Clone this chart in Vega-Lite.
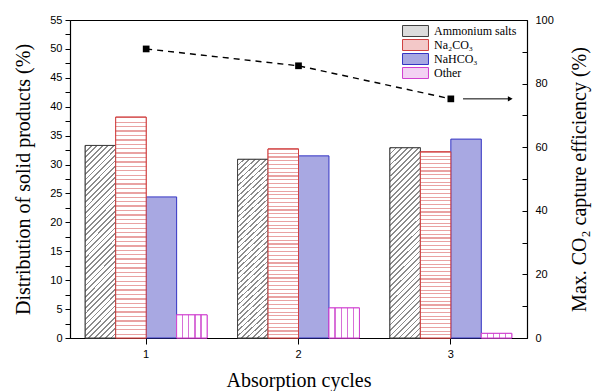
{
  "$schema": "https://vega.github.io/schema/vega-lite/v6.json",
  "width": 457,
  "height": 318,
  "autosize": {"type": "none"},
  "padding": {"left": 70, "top": 20, "right": 73, "bottom": 53},
  "background": "white",
  "config": {
    "view": {"stroke": "black", "strokeWidth": 1},
    "axis": {
      "grid": false,
      "domainColor": "black",
      "domainWidth": 1.2,
      "tickColor": "black",
      "labelColor": "black",
      "labelFont": "Liberation Sans",
      "labelFontSize": 11,
      "titleFont": "Liberation Serif",
      "titleFontSize": 20,
      "titleFontWeight": "normal",
      "titleColor": "black"
    }
  },
  "datasets": {
    "solid": [
      {"cycle": 1, "product": "Ammonium salts", "value": 33.3},
      {"cycle": 1, "product": "Na₂CO₃", "value": 38.2},
      {"cycle": 1, "product": "NaHCO₃", "value": 24.4},
      {"cycle": 1, "product": "Other", "value": 4.0},
      {"cycle": 2, "product": "Ammonium salts", "value": 30.9},
      {"cycle": 2, "product": "Na₂CO₃", "value": 32.7},
      {"cycle": 2, "product": "NaHCO₃", "value": 31.5},
      {"cycle": 2, "product": "Other", "value": 5.2},
      {"cycle": 3, "product": "Ammonium salts", "value": 32.9},
      {"cycle": 3, "product": "Na₂CO₃", "value": 32.2},
      {"cycle": 3, "product": "NaHCO₃", "value": 34.4},
      {"cycle": 3, "product": "Other", "value": 0.8}
    ],
    "eff": [
      {"cycle": 1, "eff": 90.9},
      {"cycle": 2, "eff": 85.6},
      {"cycle": 3, "eff": 75.2}
    ],
    "arrow": [
      {"xa": 3.08, "xb": 3.39, "eff": 75.2}
    ]
  },
  "resolve": {"scale": {"x": "independent", "y": "independent"}, "axis": {"x": "independent", "y": "independent"}},
  "layer": [
    {
      "data": {"name": "solid"},
      "encoding": {
        "x": {"field": "cycle", "type": "ordinal", "scale": {"paddingInner": 0.2, "paddingOuter": 0.1},
          "axis": {"title": "Absorption cycles", "labelAngle": 0, "tickSize": 6, "labelPadding": 4, "titlePadding": 11}},
        "xOffset": {"field": "product", "type": "nominal", "scale": {"domain": ["Ammonium salts", "Na₂CO₃", "NaHCO₃", "Other"], "paddingInner": 0, "paddingOuter": 0}},
        "y": {"field": "value", "type": "quantitative", "scale": {"domain": [0, 55], "nice": false},
          "axis": {"title": "Distribution of solid products (%)", "values": [0,2.5,5,7.5,10,12.5,15,17.5,20,22.5,25,27.5,30,32.5,35,37.5,40,42.5,45,47.5,50,52.5,55],
            "labelExpr": "datum.value % 5 === 0 ? datum.label : ''", "tickSize": 5, "labelPadding": 3, "titlePadding": 16}}
      },
      "layer": [
        {
          "mark": {"type": "bar", "strokeWidth": 1},
          "encoding": {
            "fill": {"field": "product", "type": "nominal",
              "scale": {"domain": ["Ammonium salts", "Na₂CO₃", "NaHCO₃", "Other"], "range": ["#dcdcdc", "#f3c8c8", "#a8a8e2", "#f3d2f3"]},
              "legend": {"orient": "none", "legendX": 339.5, "legendY": 5, "title": null, "symbolType": "M-2.36,-1H2.36V1H-2.36Z", "symbolSize": 121, "labelFont": "Liberation Serif", "labelFontSize": 12, "labelColor": "black", "rowPadding": -2, "labelOffset": 12.5, "symbolStrokeWidth": 1, "symbolOpacity": 1}},
            "stroke": {"field": "product", "type": "nominal",
              "scale": {"domain": ["Ammonium salts", "Na₂CO₃", "NaHCO₃", "Other"], "range": ["#404040", "#d04040", "#3434c4", "#d040d0"]},
              "legend": {"orient": "none", "legendX": 339.5, "legendY": 5, "title": null, "symbolType": "M-2.36,-1H2.36V1H-2.36Z", "symbolSize": 121, "labelFont": "Liberation Serif", "labelFontSize": 12, "labelColor": "black", "rowPadding": -2, "labelOffset": 12.5, "symbolStrokeWidth": 1, "symbolOpacity": 1}}
          }
        },
        {
          "transform": [{"filter": "datum.product === 'Ammonium salts'"}],
          "mark": {"type": "bar", "stroke": "#404040", "strokeWidth": 1,
            "fill": {"gradient": "linear", "x1": 0, "y1": 0, "x2": 0.18, "y2": 1.13, "stops": [
              {"offset":0,"color":"#8c8c8c"},{"offset":0.008,"color":"#8c8c8c"},{"offset":0.008,"color":"#fff"},{"offset":0.025,"color":"#fff"},
              {"offset":0.025,"color":"#8c8c8c"},{"offset":0.033,"color":"#8c8c8c"},{"offset":0.033,"color":"#fff"},{"offset":0.05,"color":"#fff"},
              {"offset":0.05,"color":"#8c8c8c"},{"offset":0.058,"color":"#8c8c8c"},{"offset":0.058,"color":"#fff"},{"offset":0.075,"color":"#fff"},
              {"offset":0.075,"color":"#8c8c8c"},{"offset":0.083,"color":"#8c8c8c"},{"offset":0.083,"color":"#fff"},{"offset":0.1,"color":"#fff"},
              {"offset":0.1,"color":"#8c8c8c"},{"offset":0.108,"color":"#8c8c8c"},{"offset":0.108,"color":"#fff"},{"offset":0.125,"color":"#fff"},
              {"offset":0.125,"color":"#8c8c8c"},{"offset":0.133,"color":"#8c8c8c"},{"offset":0.133,"color":"#fff"},{"offset":0.15,"color":"#fff"},
              {"offset":0.15,"color":"#8c8c8c"},{"offset":0.158,"color":"#8c8c8c"},{"offset":0.158,"color":"#fff"},{"offset":0.175,"color":"#fff"},
              {"offset":0.175,"color":"#8c8c8c"},{"offset":0.183,"color":"#8c8c8c"},{"offset":0.183,"color":"#fff"},{"offset":0.2,"color":"#fff"},
              {"offset":0.2,"color":"#8c8c8c"},{"offset":0.208,"color":"#8c8c8c"},{"offset":0.208,"color":"#fff"},{"offset":0.225,"color":"#fff"},
              {"offset":0.225,"color":"#8c8c8c"},{"offset":0.233,"color":"#8c8c8c"},{"offset":0.233,"color":"#fff"},{"offset":0.25,"color":"#fff"},
              {"offset":0.25,"color":"#8c8c8c"},{"offset":0.258,"color":"#8c8c8c"},{"offset":0.258,"color":"#fff"},{"offset":0.275,"color":"#fff"},
              {"offset":0.275,"color":"#8c8c8c"},{"offset":0.283,"color":"#8c8c8c"},{"offset":0.283,"color":"#fff"},{"offset":0.3,"color":"#fff"},
              {"offset":0.3,"color":"#8c8c8c"},{"offset":0.308,"color":"#8c8c8c"},{"offset":0.308,"color":"#fff"},{"offset":0.325,"color":"#fff"},
              {"offset":0.325,"color":"#8c8c8c"},{"offset":0.333,"color":"#8c8c8c"},{"offset":0.333,"color":"#fff"},{"offset":0.35,"color":"#fff"},
              {"offset":0.35,"color":"#8c8c8c"},{"offset":0.358,"color":"#8c8c8c"},{"offset":0.358,"color":"#fff"},{"offset":0.375,"color":"#fff"},
              {"offset":0.375,"color":"#8c8c8c"},{"offset":0.383,"color":"#8c8c8c"},{"offset":0.383,"color":"#fff"},{"offset":0.4,"color":"#fff"},
              {"offset":0.4,"color":"#8c8c8c"},{"offset":0.408,"color":"#8c8c8c"},{"offset":0.408,"color":"#fff"},{"offset":0.425,"color":"#fff"},
              {"offset":0.425,"color":"#8c8c8c"},{"offset":0.433,"color":"#8c8c8c"},{"offset":0.433,"color":"#fff"},{"offset":0.45,"color":"#fff"},
              {"offset":0.45,"color":"#8c8c8c"},{"offset":0.458,"color":"#8c8c8c"},{"offset":0.458,"color":"#fff"},{"offset":0.475,"color":"#fff"},
              {"offset":0.475,"color":"#8c8c8c"},{"offset":0.483,"color":"#8c8c8c"},{"offset":0.483,"color":"#fff"},{"offset":0.5,"color":"#fff"},
              {"offset":0.5,"color":"#8c8c8c"},{"offset":0.508,"color":"#8c8c8c"},{"offset":0.508,"color":"#fff"},{"offset":0.525,"color":"#fff"},
              {"offset":0.525,"color":"#8c8c8c"},{"offset":0.533,"color":"#8c8c8c"},{"offset":0.533,"color":"#fff"},{"offset":0.55,"color":"#fff"},
              {"offset":0.55,"color":"#8c8c8c"},{"offset":0.558,"color":"#8c8c8c"},{"offset":0.558,"color":"#fff"},{"offset":0.575,"color":"#fff"},
              {"offset":0.575,"color":"#8c8c8c"},{"offset":0.583,"color":"#8c8c8c"},{"offset":0.583,"color":"#fff"},{"offset":0.6,"color":"#fff"},
              {"offset":0.6,"color":"#8c8c8c"},{"offset":0.608,"color":"#8c8c8c"},{"offset":0.608,"color":"#fff"},{"offset":0.625,"color":"#fff"},
              {"offset":0.625,"color":"#8c8c8c"},{"offset":0.633,"color":"#8c8c8c"},{"offset":0.633,"color":"#fff"},{"offset":0.65,"color":"#fff"},
              {"offset":0.65,"color":"#8c8c8c"},{"offset":0.658,"color":"#8c8c8c"},{"offset":0.658,"color":"#fff"},{"offset":0.675,"color":"#fff"},
              {"offset":0.675,"color":"#8c8c8c"},{"offset":0.683,"color":"#8c8c8c"},{"offset":0.683,"color":"#fff"},{"offset":0.7,"color":"#fff"},
              {"offset":0.7,"color":"#8c8c8c"},{"offset":0.708,"color":"#8c8c8c"},{"offset":0.708,"color":"#fff"},{"offset":0.725,"color":"#fff"},
              {"offset":0.725,"color":"#8c8c8c"},{"offset":0.733,"color":"#8c8c8c"},{"offset":0.733,"color":"#fff"},{"offset":0.75,"color":"#fff"},
              {"offset":0.75,"color":"#8c8c8c"},{"offset":0.758,"color":"#8c8c8c"},{"offset":0.758,"color":"#fff"},{"offset":0.775,"color":"#fff"},
              {"offset":0.775,"color":"#8c8c8c"},{"offset":0.783,"color":"#8c8c8c"},{"offset":0.783,"color":"#fff"},{"offset":0.8,"color":"#fff"},
              {"offset":0.8,"color":"#8c8c8c"},{"offset":0.808,"color":"#8c8c8c"},{"offset":0.808,"color":"#fff"},{"offset":0.825,"color":"#fff"},
              {"offset":0.825,"color":"#8c8c8c"},{"offset":0.833,"color":"#8c8c8c"},{"offset":0.833,"color":"#fff"},{"offset":0.85,"color":"#fff"},
              {"offset":0.85,"color":"#8c8c8c"},{"offset":0.858,"color":"#8c8c8c"},{"offset":0.858,"color":"#fff"},{"offset":0.875,"color":"#fff"},
              {"offset":0.875,"color":"#8c8c8c"},{"offset":0.883,"color":"#8c8c8c"},{"offset":0.883,"color":"#fff"},{"offset":0.9,"color":"#fff"},
              {"offset":0.9,"color":"#8c8c8c"},{"offset":0.908,"color":"#8c8c8c"},{"offset":0.908,"color":"#fff"},{"offset":0.925,"color":"#fff"},
              {"offset":0.925,"color":"#8c8c8c"},{"offset":0.933,"color":"#8c8c8c"},{"offset":0.933,"color":"#fff"},{"offset":0.95,"color":"#fff"},
              {"offset":0.95,"color":"#8c8c8c"},{"offset":0.958,"color":"#8c8c8c"},{"offset":0.958,"color":"#fff"},{"offset":0.975,"color":"#fff"},
              {"offset":0.975,"color":"#8c8c8c"},{"offset":0.983,"color":"#8c8c8c"},{"offset":0.983,"color":"#fff"},{"offset":1,"color":"#fff"}
            ]}}
        },
        {
          "transform": [{"filter": "datum.product === 'Na₂CO₃'"}],
          "mark": {"type": "bar", "stroke": "#d04040", "strokeWidth": 1,
            "fill": {"gradient": "linear", "x1": 0, "y1": 0, "x2": 0, "y2": 1, "stops": [
              {"offset":0,"color":"#e9a2a2"},{"offset":0.006,"color":"#e9a2a2"},{"offset":0.006,"color":"#fff"},{"offset":0.02,"color":"#fff"},
              {"offset":0.02,"color":"#e9a2a2"},{"offset":0.026,"color":"#e9a2a2"},{"offset":0.026,"color":"#fff"},{"offset":0.04,"color":"#fff"},
              {"offset":0.04,"color":"#e9a2a2"},{"offset":0.046,"color":"#e9a2a2"},{"offset":0.046,"color":"#fff"},{"offset":0.06,"color":"#fff"},
              {"offset":0.06,"color":"#e9a2a2"},{"offset":0.066,"color":"#e9a2a2"},{"offset":0.066,"color":"#fff"},{"offset":0.08,"color":"#fff"},
              {"offset":0.08,"color":"#e9a2a2"},{"offset":0.086,"color":"#e9a2a2"},{"offset":0.086,"color":"#fff"},{"offset":0.1,"color":"#fff"},
              {"offset":0.1,"color":"#e9a2a2"},{"offset":0.106,"color":"#e9a2a2"},{"offset":0.106,"color":"#fff"},{"offset":0.12,"color":"#fff"},
              {"offset":0.12,"color":"#e9a2a2"},{"offset":0.126,"color":"#e9a2a2"},{"offset":0.126,"color":"#fff"},{"offset":0.14,"color":"#fff"},
              {"offset":0.14,"color":"#e9a2a2"},{"offset":0.146,"color":"#e9a2a2"},{"offset":0.146,"color":"#fff"},{"offset":0.16,"color":"#fff"},
              {"offset":0.16,"color":"#e9a2a2"},{"offset":0.166,"color":"#e9a2a2"},{"offset":0.166,"color":"#fff"},{"offset":0.18,"color":"#fff"},
              {"offset":0.18,"color":"#e9a2a2"},{"offset":0.186,"color":"#e9a2a2"},{"offset":0.186,"color":"#fff"},{"offset":0.2,"color":"#fff"},
              {"offset":0.2,"color":"#e9a2a2"},{"offset":0.206,"color":"#e9a2a2"},{"offset":0.206,"color":"#fff"},{"offset":0.22,"color":"#fff"},
              {"offset":0.22,"color":"#e9a2a2"},{"offset":0.226,"color":"#e9a2a2"},{"offset":0.226,"color":"#fff"},{"offset":0.24,"color":"#fff"},
              {"offset":0.24,"color":"#e9a2a2"},{"offset":0.246,"color":"#e9a2a2"},{"offset":0.246,"color":"#fff"},{"offset":0.26,"color":"#fff"},
              {"offset":0.26,"color":"#e9a2a2"},{"offset":0.266,"color":"#e9a2a2"},{"offset":0.266,"color":"#fff"},{"offset":0.28,"color":"#fff"},
              {"offset":0.28,"color":"#e9a2a2"},{"offset":0.286,"color":"#e9a2a2"},{"offset":0.286,"color":"#fff"},{"offset":0.3,"color":"#fff"},
              {"offset":0.3,"color":"#e9a2a2"},{"offset":0.306,"color":"#e9a2a2"},{"offset":0.306,"color":"#fff"},{"offset":0.32,"color":"#fff"},
              {"offset":0.32,"color":"#e9a2a2"},{"offset":0.326,"color":"#e9a2a2"},{"offset":0.326,"color":"#fff"},{"offset":0.34,"color":"#fff"},
              {"offset":0.34,"color":"#e9a2a2"},{"offset":0.346,"color":"#e9a2a2"},{"offset":0.346,"color":"#fff"},{"offset":0.36,"color":"#fff"},
              {"offset":0.36,"color":"#e9a2a2"},{"offset":0.366,"color":"#e9a2a2"},{"offset":0.366,"color":"#fff"},{"offset":0.38,"color":"#fff"},
              {"offset":0.38,"color":"#e9a2a2"},{"offset":0.386,"color":"#e9a2a2"},{"offset":0.386,"color":"#fff"},{"offset":0.4,"color":"#fff"},
              {"offset":0.4,"color":"#e9a2a2"},{"offset":0.406,"color":"#e9a2a2"},{"offset":0.406,"color":"#fff"},{"offset":0.42,"color":"#fff"},
              {"offset":0.42,"color":"#e9a2a2"},{"offset":0.426,"color":"#e9a2a2"},{"offset":0.426,"color":"#fff"},{"offset":0.44,"color":"#fff"},
              {"offset":0.44,"color":"#e9a2a2"},{"offset":0.446,"color":"#e9a2a2"},{"offset":0.446,"color":"#fff"},{"offset":0.46,"color":"#fff"},
              {"offset":0.46,"color":"#e9a2a2"},{"offset":0.466,"color":"#e9a2a2"},{"offset":0.466,"color":"#fff"},{"offset":0.48,"color":"#fff"},
              {"offset":0.48,"color":"#e9a2a2"},{"offset":0.486,"color":"#e9a2a2"},{"offset":0.486,"color":"#fff"},{"offset":0.5,"color":"#fff"},
              {"offset":0.5,"color":"#e9a2a2"},{"offset":0.506,"color":"#e9a2a2"},{"offset":0.506,"color":"#fff"},{"offset":0.52,"color":"#fff"},
              {"offset":0.52,"color":"#e9a2a2"},{"offset":0.526,"color":"#e9a2a2"},{"offset":0.526,"color":"#fff"},{"offset":0.54,"color":"#fff"},
              {"offset":0.54,"color":"#e9a2a2"},{"offset":0.546,"color":"#e9a2a2"},{"offset":0.546,"color":"#fff"},{"offset":0.56,"color":"#fff"},
              {"offset":0.56,"color":"#e9a2a2"},{"offset":0.566,"color":"#e9a2a2"},{"offset":0.566,"color":"#fff"},{"offset":0.58,"color":"#fff"},
              {"offset":0.58,"color":"#e9a2a2"},{"offset":0.586,"color":"#e9a2a2"},{"offset":0.586,"color":"#fff"},{"offset":0.6,"color":"#fff"},
              {"offset":0.6,"color":"#e9a2a2"},{"offset":0.606,"color":"#e9a2a2"},{"offset":0.606,"color":"#fff"},{"offset":0.62,"color":"#fff"},
              {"offset":0.62,"color":"#e9a2a2"},{"offset":0.626,"color":"#e9a2a2"},{"offset":0.626,"color":"#fff"},{"offset":0.64,"color":"#fff"},
              {"offset":0.64,"color":"#e9a2a2"},{"offset":0.646,"color":"#e9a2a2"},{"offset":0.646,"color":"#fff"},{"offset":0.66,"color":"#fff"},
              {"offset":0.66,"color":"#e9a2a2"},{"offset":0.666,"color":"#e9a2a2"},{"offset":0.666,"color":"#fff"},{"offset":0.68,"color":"#fff"},
              {"offset":0.68,"color":"#e9a2a2"},{"offset":0.686,"color":"#e9a2a2"},{"offset":0.686,"color":"#fff"},{"offset":0.7,"color":"#fff"},
              {"offset":0.7,"color":"#e9a2a2"},{"offset":0.706,"color":"#e9a2a2"},{"offset":0.706,"color":"#fff"},{"offset":0.72,"color":"#fff"},
              {"offset":0.72,"color":"#e9a2a2"},{"offset":0.726,"color":"#e9a2a2"},{"offset":0.726,"color":"#fff"},{"offset":0.74,"color":"#fff"},
              {"offset":0.74,"color":"#e9a2a2"},{"offset":0.746,"color":"#e9a2a2"},{"offset":0.746,"color":"#fff"},{"offset":0.76,"color":"#fff"},
              {"offset":0.76,"color":"#e9a2a2"},{"offset":0.766,"color":"#e9a2a2"},{"offset":0.766,"color":"#fff"},{"offset":0.78,"color":"#fff"},
              {"offset":0.78,"color":"#e9a2a2"},{"offset":0.786,"color":"#e9a2a2"},{"offset":0.786,"color":"#fff"},{"offset":0.8,"color":"#fff"},
              {"offset":0.8,"color":"#e9a2a2"},{"offset":0.806,"color":"#e9a2a2"},{"offset":0.806,"color":"#fff"},{"offset":0.82,"color":"#fff"},
              {"offset":0.82,"color":"#e9a2a2"},{"offset":0.826,"color":"#e9a2a2"},{"offset":0.826,"color":"#fff"},{"offset":0.84,"color":"#fff"},
              {"offset":0.84,"color":"#e9a2a2"},{"offset":0.846,"color":"#e9a2a2"},{"offset":0.846,"color":"#fff"},{"offset":0.86,"color":"#fff"},
              {"offset":0.86,"color":"#e9a2a2"},{"offset":0.866,"color":"#e9a2a2"},{"offset":0.866,"color":"#fff"},{"offset":0.88,"color":"#fff"},
              {"offset":0.88,"color":"#e9a2a2"},{"offset":0.886,"color":"#e9a2a2"},{"offset":0.886,"color":"#fff"},{"offset":0.9,"color":"#fff"},
              {"offset":0.9,"color":"#e9a2a2"},{"offset":0.906,"color":"#e9a2a2"},{"offset":0.906,"color":"#fff"},{"offset":0.92,"color":"#fff"},
              {"offset":0.92,"color":"#e9a2a2"},{"offset":0.926,"color":"#e9a2a2"},{"offset":0.926,"color":"#fff"},{"offset":0.94,"color":"#fff"},
              {"offset":0.94,"color":"#e9a2a2"},{"offset":0.946,"color":"#e9a2a2"},{"offset":0.946,"color":"#fff"},{"offset":0.96,"color":"#fff"},
              {"offset":0.96,"color":"#e9a2a2"},{"offset":0.966,"color":"#e9a2a2"},{"offset":0.966,"color":"#fff"},{"offset":0.98,"color":"#fff"},
              {"offset":0.98,"color":"#e9a2a2"},{"offset":0.986,"color":"#e9a2a2"},{"offset":0.986,"color":"#fff"},{"offset":1,"color":"#fff"}
            ]}}
        },
        {
          "transform": [{"filter": "datum.product === 'Other'"}],
          "mark": {"type": "bar", "stroke": "#d040d0", "strokeWidth": 1,
            "fill": {"gradient": "linear", "x1": 0, "y1": 0, "x2": 1, "y2": 0, "stops": [
              {"offset":0,"color":"#fff"},{"offset":0.18,"color":"#fff"},{"offset":0.18,"color":"#d870d8"},{"offset":0.22,"color":"#d870d8"},
              {"offset":0.22,"color":"#fff"},{"offset":0.38,"color":"#fff"},{"offset":0.38,"color":"#d870d8"},{"offset":0.42,"color":"#d870d8"},
              {"offset":0.42,"color":"#fff"},{"offset":0.58,"color":"#fff"},{"offset":0.58,"color":"#d870d8"},{"offset":0.62,"color":"#d870d8"},
              {"offset":0.62,"color":"#fff"},{"offset":0.78,"color":"#fff"},{"offset":0.78,"color":"#d870d8"},{"offset":0.82,"color":"#d870d8"},
              {"offset":0.82,"color":"#fff"},{"offset":1,"color":"#fff"}
            ]}}
        }
      ]
    },
    {
      "encoding": {
        "y": {"field": "eff", "type": "quantitative", "scale": {"domain": [0, 100], "nice": false},
          "axis": {"orient": "right", "title": "Max. CO₂ capture efficiency (%)", "titleAngle": 270,
            "values": [0,10,20,30,40,50,60,70,80,90,100], "labelExpr": "datum.value % 20 === 0 ? datum.label : ''",
            "tickSize": -5, "labelPadding": 13, "titlePadding": 36}}
      },
      "layer": [
        {
          "data": {"name": "eff"},
          "mark": {"type": "line", "color": "black", "strokeWidth": 1.4, "strokeDash": [6, 5]},
          "encoding": {"x": {"field": "cycle", "type": "quantitative", "scale": {"domain": [0.5, 3.5], "nice": false}, "axis": null}}
        },
        {
          "data": {"name": "eff"},
          "mark": {"type": "point", "shape": "square", "filled": true, "color": "black", "size": 45, "opacity": 1},
          "encoding": {"x": {"field": "cycle", "type": "quantitative", "scale": {"domain": [0.5, 3.5], "nice": false}, "axis": null}}
        },
        {
          "data": {"name": "arrow"},
          "mark": {"type": "rule", "color": "black", "strokeWidth": 1},
          "encoding": {"x": {"field": "xa", "type": "quantitative", "axis": null}, "x2": {"field": "xb"}}
        },
        {
          "data": {"name": "arrow"},
          "mark": {"type": "point", "shape": "triangle-right", "filled": true, "color": "black", "size": 30, "opacity": 1},
          "encoding": {"x": {"field": "xb", "type": "quantitative", "axis": null}}
        }
      ]
    }
  ]
}
